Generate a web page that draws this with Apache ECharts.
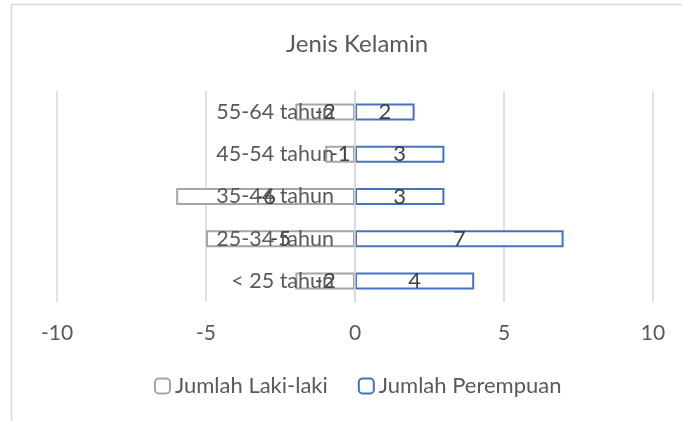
<!DOCTYPE html>
<html>
<head>
<meta charset="utf-8">
<script src="https://cdn.jsdelivr.net/npm/echarts@6/dist/echarts.min.js"></script>
<style>
html,body{margin:0;padding:0;background:#fff;}
#c{width:682px;height:421px;}
</style>
</head>
<body>
<div id="c"></div>
<script>
const categories = ["< 25 tahun", "25-34 tahun", "35-44 tahun", "45-54 tahun", "55-64 tahun"];
const lakiLaki = [-2, -5, -6, -1, -2];
const perempuan = [4, 7, 3, 3, 2];
const seriesNames = ["Jumlah Laki-laki", "Jumlah Perempuan"];
const titleText = "Jenis Kelamin";

const FONT = "Lato";
const TXT = "#595959";
const chart = echarts.init(document.getElementById('c'), null, {renderer: 'canvas'});
chart.setOption({
  animation: false,
  backgroundColor: '#fff',
  graphic: [{
    type: 'rect', z: 100, silent: true,
    shape: {x: 11.5, y: 4.5, width: 700, height: 440},
    style: {fill: 'none', stroke: '#d9d9d9', lineWidth: 1.5}
  }],
  title: {
    text: titleText, left: 281, top: 27,
    textStyle: {fontFamily: FONT, fontSize: 24, fontWeight: 'normal', color: TXT}
  },
  legend: {
    bottom: 19, left: 149, itemWidth: 15, itemHeight: 15, itemGap: 30,
    textStyle: {fontFamily: FONT, fontSize: 22, color: TXT},
    data: seriesNames
  },
  grid: {left: 57, right: 29, top: 91, bottom: 119, containLabel: false, outerBoundsMode: 'none'},
  xAxis: {
    type: 'value', min: -10, max: 10, interval: 5,
    axisLine: {show: false}, axisTick: {show: false},
    splitLine: {show: true, lineStyle: {color: '#d9d9d9', width: 1.5}},
    axisLabel: {fontFamily: FONT, fontSize: 21, color: TXT, margin: 21}
  },
  yAxis: {
    type: 'category', data: categories, z: 10, position: 'left', offset: -298,
    axisLine: {show: true, onZero: false, lineStyle: {color: '#d9d9d9', width: 1.5}},
    axisTick: {show: false},
    axisLabel: {fontFamily: FONT, fontSize: 21.5, color: TXT, margin: 21}
  },
  series: [
    {
      name: seriesNames[0], type: 'bar', data: lakiLaki,
      barWidth: 17, barGap: '-100%',
      itemStyle: {color: '#fff', borderColor: '#a5a5a5', borderWidth: 2},
      label: {show: true, position: 'inside', fontFamily: FONT, fontSize: 22, color: '#404040'}
    },
    {
      name: seriesNames[1], type: 'bar', data: perempuan,
      barWidth: 17, barGap: '-100%',
      itemStyle: {color: '#fff', borderColor: '#4472c4', borderWidth: 2},
      label: {show: true, position: 'inside', fontFamily: FONT, fontSize: 22, color: '#404040'}
    }
  ]
});
</script>
</body>
</html>
